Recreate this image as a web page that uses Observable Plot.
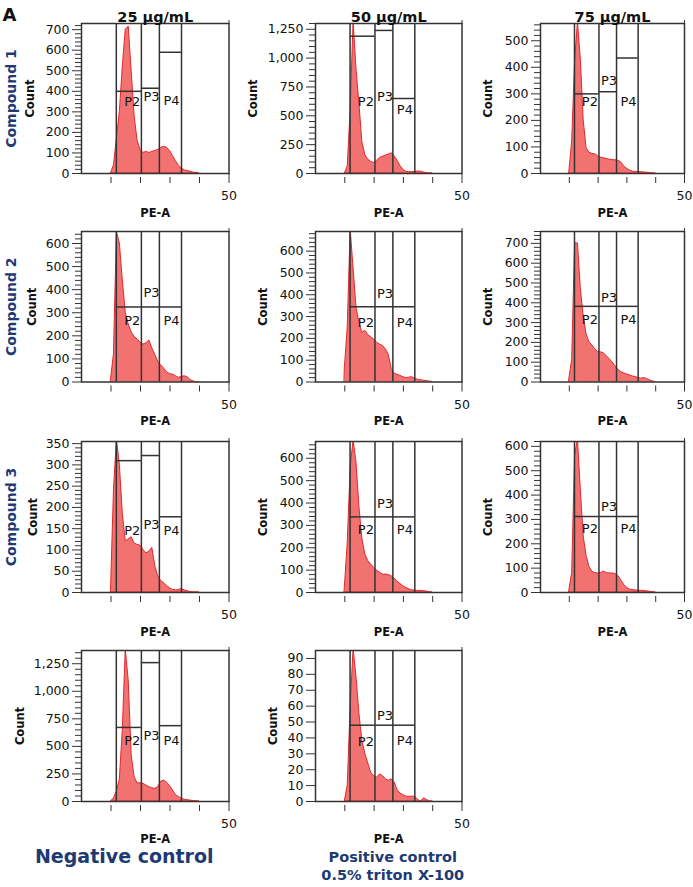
<!DOCTYPE html>
<html><head><meta charset="utf-8">
<script src="https://cdn.jsdelivr.net/npm/d3@7"></script>
<script src="https://cdn.jsdelivr.net/npm/@observablehq/plot@0.6"></script>
<style>
body{margin:0;background:#fff;}
#chart{position:relative;width:693px;height:887px;overflow:hidden;font-family:"DejaVu Sans",sans-serif;}
#chart svg{position:absolute;}
</style></head><body><div id="chart"></div>
<script>
// ---- data ----
const peBins = [10,11,12,13,14,15,16,17,18,19,20,21,22,23,24,25,26,27,28,29,30,31,32,33,34,35,36,37,38,39,40];
const countsC1_25 = [0,40,170,300,520,700,715,500,280,160,115,100,105,100,105,110,115,125,130,125,110,85,60,38,25,15,12,8,4,2,0];
const countsC1_50 = [0,60,550,1320,900,600,270,160,120,100,92,110,135,145,155,165,175,150,110,65,30,15,12,12,14,18,15,8,3,0,0];
const countsC1_75 = [5,120,420,570,430,200,95,78,74,72,65,60,57,55,52,50,50,48,42,28,18,12,7,6,6,5,4,3,2,0,0];
const countsC2_25 = [10,120,650,600,440,300,250,215,195,185,170,162,168,180,145,118,88,72,58,42,34,32,25,18,22,25,20,8,2,0,0];
const countsC2_50 = [60,250,700,520,340,270,225,235,215,205,195,180,172,165,150,125,60,38,33,28,22,18,20,22,15,10,8,6,4,2,0];
const countsC2_75 = [15,110,700,700,470,330,240,200,185,165,152,150,145,130,115,100,80,62,50,44,38,34,28,25,20,17,20,15,8,3,0];
const countsC3_25 = [5,240,360,300,185,120,125,130,115,112,110,100,92,96,105,62,38,27,22,15,10,6,5,6,8,5,3,1,0,0,0];
const countsC3_50 = [20,220,560,680,580,380,240,170,140,125,110,98,88,80,80,78,72,62,48,38,28,20,14,10,8,7,7,6,4,1,0];
const countsC3_75 = [8,80,560,630,420,230,150,105,85,80,78,80,86,80,78,78,76,68,50,32,20,12,10,8,8,7,6,5,3,1,0];
const countsNeg = [0,30,90,200,650,1380,1100,420,220,165,165,160,145,130,120,115,130,180,190,170,140,100,60,40,25,15,12,8,4,0,0];
const countsPos = [0,10,60,96,78,55,38,30,24,18,16,15,17,16,14,13,14,12,7,5,4,3,3,3,3,1,0,2,1,0,0];

const gatesPE = [11.8, 20.3, 26.4, 33.9];
const gateNames = ["P2","P3","P4"];
const xMinorTicks = [10,20,30,40];
const xMajorTicks = [50];

const columnTitles = ["25 µg/mL","50 µg/mL","75 µg/mL"];
const rowTitles = ["Compound 1","Compound 2","Compound 3"];
const captionNeg = "Negative control";
const captionPos = ["Positive control","0.5% triton X-100"];

// y tick labels per panel
const yTicks700 = [0,100,200,300,400,500,600,700];
const yTicks1250 = [0,250,500,750,1000,1250];
const yTicks500 = [0,100,200,300,400,500];
const yTicks600 = [0,100,200,300,400,500,600];
const yTicks350 = [0,50,100,150,200,250,300,350];
const yTicks90 = [0,10,20,30,40,50,60,70,80,90];

// gate marker heights [P2,P3,P4] and label heights [P2,P3,P4]
const panels = [
  {row:0,col:0,counts:countsC1_25,yMax:730,yTicks:yTicks700,minor:20,gateH:[400,415,590],labelH:[347,372,355]},
  {row:0,col:1,counts:countsC1_50,yMax:1300,yTicks:yTicks1250,minor:50,gateH:[1190,1240,650],labelH:[625,668,553]},
  {row:0,col:2,counts:countsC1_75,yMax:565,yTicks:yTicks500,minor:20,gateH:[300,308,435],labelH:[271,350,271]},
  {row:1,col:0,counts:countsC2_25,yMax:652,yTicks:yTicks600,minor:20,gateH:[325,325,325],labelH:[264,387,264]},
  {row:1,col:1,counts:countsC2_50,yMax:690,yTicks:yTicks600,minor:20,gateH:[345,345,345],labelH:[269,406,269]},
  {row:1,col:2,counts:countsC2_75,yMax:760,yTicks:yTicks700,minor:20,gateH:[382,382,382],labelH:[312,425,312]},
  {row:2,col:0,counts:countsC3_25,yMax:355,yTicks:yTicks350,minor:10,gateH:[310,322,178],labelH:[145,159,145]},
  {row:2,col:1,counts:countsC3_50,yMax:675,yTicks:yTicks600,minor:20,gateH:[338,338,338],labelH:[278,397,278]},
  {row:2,col:2,counts:countsC3_75,yMax:620,yTicks:yTicks600,minor:20,gateH:[312,312,312],labelH:[260,350,260]},
  {row:3,col:0,counts:countsNeg,yMax:1370,yTicks:yTicks1250,minor:50,gateH:[672,1260,688],labelH:[548,600,554]},
  {row:3,col:1,counts:countsPos,yMax:95,yTicks:yTicks90,minor:null,gateH:[48,48,48],labelH:[37.6,54,38]}
];

// ---- layout ----
const colFrames = [[80.5,228],[315,461.5],[540,684]];
const rowFrames = [[23,173],[230.5,381],[441,592],[650,801]];
const countOffsets = [[51.5,62,52],[49,52,52],[48.5,52,52],[61,42]];
const FONT = "DejaVu Sans, sans-serif";
const NAVY = "#1d3a74";

const chart = document.getElementById("chart");

panels.forEach((p, k) => {
  const [fl, fr] = colFrames[p.col];
  const [ft, fb] = rowFrames[p.row];
  const ML = 80, MR = 20, MT = 23, MB = 90;
  const W = ML + (fr - fl) + MR, H = MT + (fb - ft) + MB;
  const hist = peBins.map((x, i) => ({x, y: p.counts[i]}));
  const segs = gateNames.map((g, i) => ({x1: gatesPE[i], x2: gatesPE[i+1], y: p.gateH[i], ly: p.labelH[i], label: g}));
  const minors = p.minor ? d3.range(0, p.yMax + 0.001, p.minor).filter(v => !p.yTicks.includes(v)) : [];
  const marks = [
    Plot.areaY(hist, {x: "x", y: "y", fill: "#f27272", stroke: "#e2282c", strokeWidth: 1, clip: true}),
    Plot.ruleX(gatesPE, {stroke: "#333", strokeWidth: 1.5}),
    Plot.ruleY(segs, {x1: "x1", x2: "x2", y: "y", stroke: "#333", strokeWidth: 1.5}),
    Plot.text(segs.slice(0,1), {x: "x2", y: "ly", text: "label", textAnchor: "end", dx: -1, fontSize: 13, fill: "#111"}),
    Plot.text(segs.slice(1,2), {x: "x1", y: "ly", text: "label", textAnchor: "start", dx: 2, fontSize: 13, fill: "#111"}),
    Plot.text(segs.slice(2,3), {x: "x1", y: "ly", text: "label", textAnchor: "start", dx: 4, fontSize: 13, fill: "#111"}),
    Plot.frame({stroke: "#333", strokeWidth: 1.5}),
    Plot.axisY({ticks: p.yTicks, tickSize: 9, tickPadding: 3, tickFormat: d3.format(","), label: null, fontSize: 12.5, stroke: "#333", fill: "#111"}),
    Plot.axisX({ticks: xMinorTicks, tickSize: 6, dy: 4, tickFormat: () => "", label: null, stroke: "#333"}),
    Plot.axisX({ticks: xMajorTicks, tickSize: 10, tickPadding: 8, tickFormat: d => String(d), label: null, fontSize: 12.5, stroke: "#333", fill: "#111"}),
    Plot.axisX({anchor: "top", ticks: xMajorTicks, tickSize: 4, tickFormat: () => "", label: null, stroke: "#333"}),
    Plot.text(["PE-A"], {frameAnchor: "bottom", dy: p.row === 3 ? 41 : 43, fontWeight: "bold", fontSize: 11.5, fill: "#111"}),
    Plot.text(["Count"], {frameAnchor: "left", textAnchor: "middle", dx: -countOffsets[p.row][p.col], rotate: -90, fontWeight: "bold", fontSize: 11.5, fill: "#111"})
  ];
  if (minors.length) marks.push(Plot.axisY({ticks: minors, tickSize: 6, tickFormat: () => "", label: null, stroke: "#333"}));
  if (p.row === 0) marks.push(Plot.text([columnTitles[p.col]], {frameAnchor: "top", dy: -12, fontWeight: "bold", fontSize: 14.5, fill: "#111"}));
  if (p.col === 0 && p.row < 3) marks.push(Plot.text([rowTitles[p.row]], {frameAnchor: "left", textAnchor: "middle", dx: -70, rotate: -90, fontWeight: "bold", fontSize: 14, fill: NAVY}));
  if (k === 0) marks.push(Plot.text(["A"], {frameAnchor: "top-left", dx: -79, dy: -15, textAnchor: "start", fontWeight: "bold", fontSize: 18, fill: "#111"}));
  if (p.row === 3 && p.col === 0) marks.push(Plot.text([captionNeg], {frameAnchor: "bottom", dx: -31, dy: 61, fontWeight: "bold", fontSize: 19, fill: NAVY}));
  if (p.row === 3 && p.col === 1) {
    marks.push(Plot.text([captionPos[0]], {frameAnchor: "bottom", dx: 4, dy: 60, fontWeight: "bold", fontSize: 14.5, fill: NAVY}));
    marks.push(Plot.text([captionPos[1]], {frameAnchor: "bottom", dx: 4, dy: 78, fontWeight: "bold", fontSize: 14.5, fill: NAVY}));
  }
  const svg = Plot.plot({
    width: W, height: H,
    marginLeft: ML, marginRight: MR, marginTop: MT, marginBottom: MB,
    style: {fontFamily: FONT, background: "transparent", overflow: "visible"},
    x: {domain: [0, 50], axis: null},
    y: {domain: [0, p.yMax], axis: null},
    marks
  });
  svg.style.left = (fl - ML) + "px";
  svg.style.top = (ft - MT) + "px";
  chart.appendChild(svg);
});
</script></body></html>
